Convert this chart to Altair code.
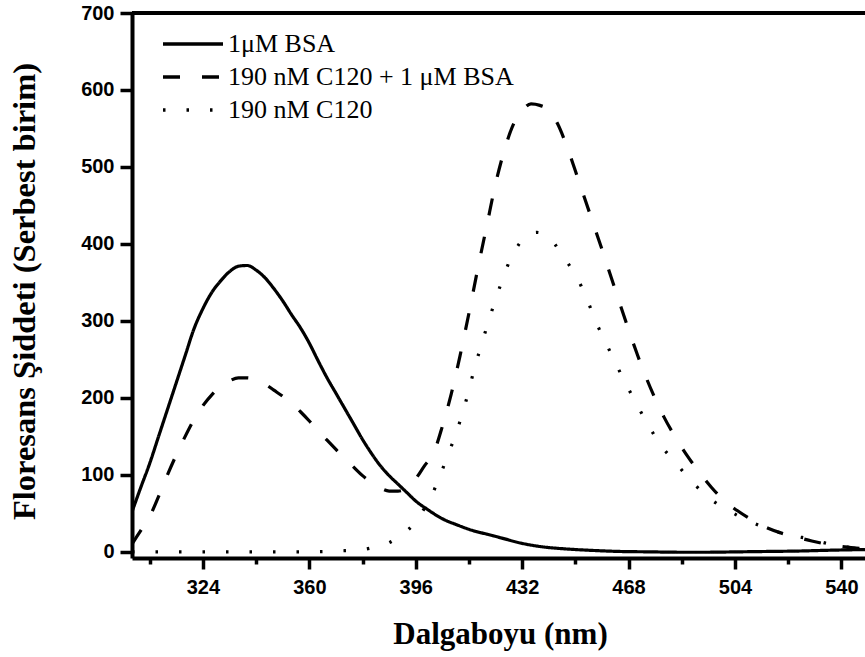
import altair as alt
import pandas as pd

# ---- data ----
series_names = ["1\u03bcM BSA", "190 nM C120 + 1 \u03bcM BSA", "190 nM C120"]

bsa_wl = [300, 303, 306, 309, 312, 315, 318, 321, 324, 327, 330, 333, 336, 339, 342, 345, 348,
          351, 354, 357, 360, 363, 366, 369, 372, 375, 378, 381, 384, 387, 390, 393, 396, 400,
          405, 410, 415, 420, 425, 432, 440, 446, 455, 465, 475, 485, 495, 505, 515, 525, 535, 548]
bsa_val = [52, 84, 115, 150, 185, 220, 255, 290, 316, 337, 352, 364, 371, 372, 366, 356, 342,
           326, 308, 291, 271, 248, 226, 206, 186, 166, 146, 128, 112, 99, 88, 77, 66, 55,
           43, 35, 28, 23, 18, 11, 6, 4, 2, 0.5, 0, -0.5, -0.5, 0, 0.5, 1, 2, 3]

mix_wl = [300, 303, 306, 309, 312, 315, 318, 321, 324, 327, 330, 333, 336, 339, 342, 345, 348,
          351, 354, 357, 360, 363, 366, 369, 372, 375, 378, 381, 384, 387, 390, 393, 396, 399,
          402, 405, 408, 411, 414, 417, 420, 423, 426, 429, 432, 435, 438, 441, 444, 447, 450,
          453, 456, 459, 462, 465, 468, 471, 474, 477, 480, 484, 488, 492, 496, 500, 505, 510,
          515, 520, 525, 530, 535, 540, 545, 548]
mix_val = [10, 28, 46, 72, 100, 126, 150, 172, 190, 204, 215, 222, 226, 226, 223, 218, 210,
           202, 193, 182, 170, 157, 145, 133, 121, 110, 99, 90, 83, 79, 79, 83, 95, 112,
           128, 163, 205, 255, 310, 368, 423, 478, 522, 555, 573, 582, 580, 574, 556, 528, 495,
           461, 427, 393, 358, 323, 289, 256, 226, 199, 175, 148, 124, 103, 84, 68, 53, 41,
           31, 24, 19, 14, 10, 7, 5, 4]

c120_wl = [300, 310, 320, 330, 340, 350, 360, 366, 372, 378, 382, 386, 389, 392, 395, 398, 401,
           404, 407, 410, 413, 416, 419, 422, 425, 428, 431, 434, 437, 440, 443, 446, 449, 452,
           455, 458, 461, 464, 467, 470, 473, 476, 479, 482, 485, 488, 491, 494, 497, 500, 505,
           510, 515, 520, 525, 530, 535, 540, 545, 548]
c120_val = [0, 0, 0, 0, 0, 0, 0, 0.5, 1.5, 3, 6, 10, 16, 24, 35, 51, 70,
            97, 127, 158, 196, 240, 279, 316, 350, 380, 400, 412, 415, 411, 400, 383, 366, 345,
            318, 290, 266, 242, 219, 197, 176, 156, 138, 124, 111, 97, 85, 74, 65, 58, 47,
            38, 30, 24, 20, 16, 11, 7, 5, 4]

x_ticks = list(range(306, 541, 18))
y_ticks = list(range(0, 701, 50))
frame_x = [300, 548]
frame_y = [700, 700]

rows = []
for name, wl, val in [(series_names[0], bsa_wl, bsa_val),
                      (series_names[1], mix_wl, mix_val),
                      (series_names[2], c120_wl, c120_val)]:
    for w, v in zip(wl, val):
        rows.append({"wl": w, "val": v, "series": name})
df = pd.DataFrame(rows)
frame_df = pd.DataFrame({"x": frame_x, "y": frame_y})

LABEL_FONT = "Arial, 'Liberation Sans', sans-serif"
SERIF = "'Times New Roman', 'Liberation Serif', Times, serif"

x_scale = alt.Scale(domain=[300, 548], nice=False, zero=False)
y_scale = alt.Scale(domain=[-8, 700], nice=False, zero=False)

lines = alt.Chart(df).mark_line(strokeWidth=3.2, color="black", clip=True,
                                interpolate="monotone", strokeCap="butt").encode(
    x=alt.X("wl:Q", scale=x_scale,
            axis=alt.Axis(values=x_ticks, title="Dalgaboyu (nm)",
                          labelExpr="datum.value % 36 === 0 ? datum.label : ''",
                          labelOverlap=False, labelFont=LABEL_FONT, labelFontWeight="bold",
                          labelFontSize=20, labelColor="black", labelPadding=8,
                          tickSize={"condition": {"test": "datum.value % 36 === 0", "value": 11}, "value": 6},
                          tickWidth=3.5, tickColor="black", domainColor="black", domainWidth=4,
                          grid=False, titleFont=SERIF, titleFontWeight="bold", titleFontSize=31,
                          titleColor="black", titleBaseline="alphabetic", titleY=85,
                          titleX=368, titleAlign="center")),
    y=alt.Y("val:Q", scale=y_scale,
            axis=alt.Axis(values=y_ticks, title="Floresans \u015eiddeti (Serbest birim)",
                          labelExpr="datum.value % 100 === 0 ? datum.label : ''",
                          labelOverlap=False, labelFont=LABEL_FONT, labelFontWeight="bold",
                          labelFontSize=20, labelColor="black", labelPadding=6,
                          tickSize={"condition": {"test": "datum.value % 100 === 0", "value": 12}, "value": 6},
                          tickWidth=3.5, tickColor="black", domainColor="black", domainWidth=4,
                          grid=False, titleFont=SERIF, titleFontWeight="bold", titleFontSize=32.5,
                          titleColor="black", titleAngle=-90, titleBaseline="alphabetic",
                          titleAlign="center", titleX=-98, titleY=278)),
    strokeDash=alt.StrokeDash("series:N",
                              scale=alt.Scale(domain=series_names,
                                              range=[[1, 0], [17, 22], [2.5, 21]]),
                              legend=alt.Legend(title=None, orient="none", legendX=48, legendY=18,
                                                symbolType="M-3,0H3", symbolSize=400,
                                                symbolStrokeWidth=3.5, symbolStrokeColor="black",
                                                labelFont=SERIF, labelFontSize=26,
                                                labelColor="black", labelOffset=22,
                                                labelLimit=500,
                                                rowPadding=7, padding=0)),
    order=alt.Order("wl:Q"),
)

frame = alt.Chart(frame_df).mark_line(color="black", strokeWidth=4, clip=False).encode(
    x=alt.X("x:Q", scale=x_scale),
    y=alt.Y("y:Q", scale=y_scale),
)

chart = alt.layer(lines, frame).properties(
    width=733, height=545,
    autosize=alt.AutoSizeParams(type="none"),
    padding={"left": 132, "top": 13, "right": 0, "bottom": 99},
).configure_view(strokeWidth=0).configure(background="white")

chart.save("out.html", embed_options={"renderer": "svg", "actions": False})
